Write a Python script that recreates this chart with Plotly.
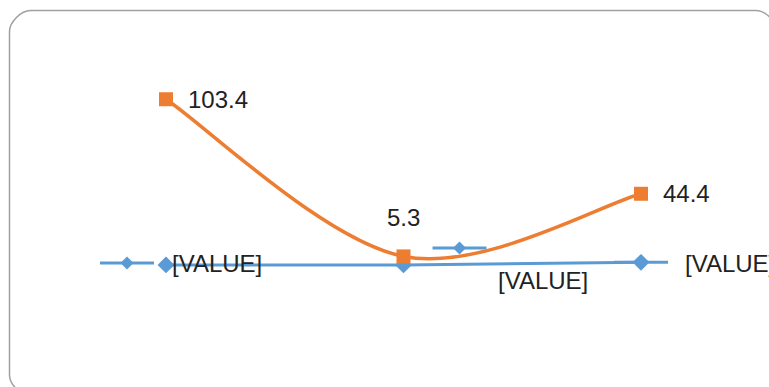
import plotly.graph_objects as go

# ---- data ----
categories = ["1", "2", "3"]
orange_values = [103.4, 5.3, 44.4]
orange_labels = ["103.4", "5.3", "44.4"]
blue_values = [0.0, 0.0, 1.6]
blue_labels = ["[VALUE]", "[VALUE]", "[VALUE]"]

ORANGE = "#ED7D31"
BLUE = "#5B9BD5"
TXT = "#222222"
FONT = "Liberation Sans Narrow, Arial Narrow, Liberation Sans, Arial, sans-serif"
FS = 24
W, H = 769, 387

xs = list(range(len(categories)))

fig = go.Figure()
fig.add_trace(go.Scatter(
    x=xs, y=blue_values, mode="lines+markers",
    line=dict(color=BLUE, width=3, shape="spline"),
    marker=dict(symbol="diamond", size=13, color=BLUE),
    cliponaxis=False, showlegend=False, hoverinfo="skip"))
fig.add_trace(go.Scatter(
    x=xs, y=orange_values, mode="markers",
    marker=dict(symbol="square", size=14, color=ORANGE),
    cliponaxis=False, showlegend=False, hoverinfo="skip"))

annotations = []
o_pos = [dict(xanchor="left", yanchor="middle", xshift=20, yshift=0),
         dict(xanchor="center", yanchor="bottom", xshift=0, yshift=23),
         dict(xanchor="left", yanchor="middle", xshift=20, yshift=0)]
for i, (v, t) in enumerate(zip(orange_values, orange_labels)):
    annotations.append(dict(x=xs[i], y=v, text=t, showarrow=False,
                            font=dict(family=FONT, size=FS, color=TXT), **o_pos[i]))
b_pos = [dict(xanchor="left", yanchor="middle", xshift=4, yshift=1),
         dict(xanchor="left", yanchor="middle", xshift=92, yshift=-16),
         dict(xanchor="left", yanchor="middle", xshift=42, yshift=-1)]
for i, (v, t) in enumerate(zip(blue_values, blue_labels)):
    annotations.append(dict(x=xs[i], y=v, text=t, showarrow=False,
                            font=dict(family=FONT, size=FS, color=TXT), **b_pos[i]))

shapes = []
# legend keys shown beside the blue data labels (pixel offsets from the point)
key_offsets = [(-39, 2), (56, 17), (0, 0)]
for i, (dx, dy) in enumerate(key_offsets):
    common = dict(xref="x", yref="y", xsizemode="pixel", ysizemode="pixel",
                  xanchor=xs[i], yanchor=blue_values[i], layer="above")
    shapes.append(dict(type="line", x0=dx - 27, x1=dx + 27, y0=dy, y1=dy,
                       line=dict(color=BLUE, width=3), **common))
    shapes.append(dict(type="path",
                       path=f"M {dx-6.5},{dy} L {dx},{dy+6.5} L {dx+6.5},{dy} L {dx},{dy-6.5} Z",
                       fillcolor=BLUE, line=dict(width=0), **common))

# smoothed orange line (Excel-style Catmull-Rom Bezier built from the data, in data coords)
pts = list(zip(xs, orange_values))
n = len(pts)
d = f"M {pts[0][0]},{pts[0][1]}"
for i in range(n - 1):
    p_prev = pts[i - 1] if i > 0 else pts[i]
    p0, p1 = pts[i], pts[i + 1]
    p_next = pts[i + 2] if i + 2 < n else pts[i + 1]
    c1 = (p0[0] + (p1[0] - p_prev[0]) / 6, p0[1] + (p1[1] - p_prev[1]) / 6)
    c2 = (p1[0] - (p_next[0] - p0[0]) / 6, p1[1] - (p_next[1] - p0[1]) / 6)
    d += f" C {c1[0]},{c1[1]} {c2[0]},{c2[1]} {p1[0]},{p1[1]}"
shapes.append(dict(type="path", xref="x", yref="y", path=d,
                   line=dict(color=ORANGE, width=3.5), layer="above"))

# rounded chart border (pixel coords -> paper)
def px(x):
    return x / W
def py(y):
    return 1 - y / H
L, T, R, B, r = 9.5, 10.5, 777, 396, 21
k = 0.45 * r
path = (f"M {px(L+r)},{py(T)} L {px(R-r)},{py(T)} "
        f"C {px(R-r+k)},{py(T)} {px(R)},{py(T+r-k)} {px(R)},{py(T+r)} "
        f"L {px(R)},{py(B-r)} "
        f"C {px(R)},{py(B-r+k)} {px(R-r+k)},{py(B)} {px(R-r)},{py(B)} "
        f"L {px(L+r)},{py(B)} "
        f"C {px(L+r-k)},{py(B)} {px(L)},{py(B-r+k)} {px(L)},{py(B-r)} "
        f"L {px(L)},{py(T+r)} "
        f"C {px(L)},{py(T+r-k)} {px(L+r-k)},{py(T)} {px(L+r)},{py(T)} Z")
shapes.append(dict(type="path", xref="paper", yref="paper", path=path,
                   line=dict(color="#A0A0A0", width=1.5), layer="below"))

# axis ranges mapping data to pixels: x px = 166 + 237.5*i ; y px = 264.9 - 1.602*v
x0 = -166 / 237.5
x1 = (W - 166) / 237.5
y_top = 264.9 / 1.602
y_bot = (264.9 - H) / 1.602

fig.update_layout(
    width=W, height=H,
    margin=dict(l=0, r=0, t=0, b=0),
    paper_bgcolor="white", plot_bgcolor="white",
    xaxis=dict(range=[x0, x1], visible=False, tickvals=xs, ticktext=categories),
    yaxis=dict(range=[y_bot, y_top], visible=False),
    annotations=annotations, shapes=shapes,
)
fig.write_html("out.html")
